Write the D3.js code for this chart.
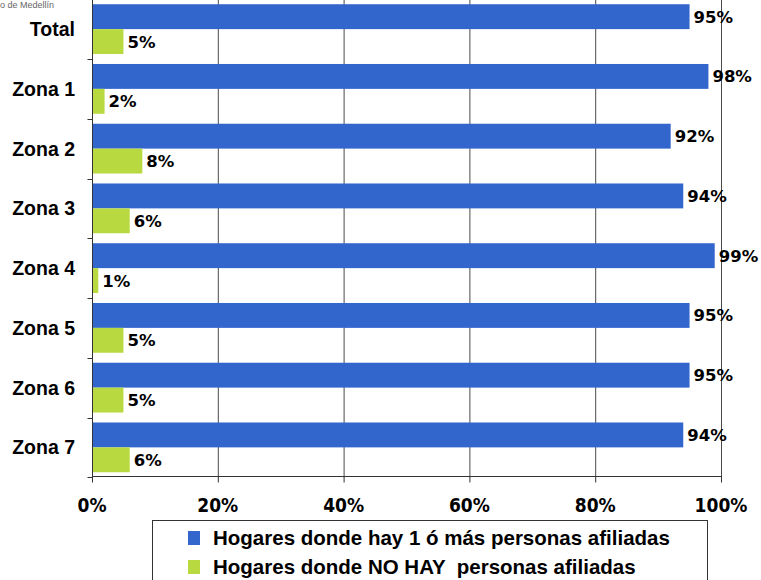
<!DOCTYPE html>
<html><head><meta charset="utf-8">
<script src="https://cdn.jsdelivr.net/npm/d3@7"></script>
<style>body{margin:0;background:#fff}svg{display:block}</style>
</head><body><svg id="c" width="761" height="580"></svg>
<script>
const categories = ["Total","Zona 1","Zona 2","Zona 3","Zona 4","Zona 5","Zona 6","Zona 7"];
const afiliadas = [95,98,92,94,99,95,95,94];
const noAfiliadas = [5,2,8,6,1,5,5,6];
const xTicks = [0,20,40,60,80,100];
const seriesNames = ["Hogares donde hay 1 ó más personas afiliadas","Hogares donde NO HAY  personas afiliadas"];
const colors = ["#3366CC","#B8DA40"];

const svg = d3.select("#c");
const x = d3.scaleLinear().domain([0,100]).range([92,721]);
const y = d3.scaleBand().domain(categories).range([-0.75,477.25]).padding(0);
const sub = d3.scaleBand().domain([0,1]).range([0,y.bandwidth()]).paddingInner(0).paddingOuter(0.2);
const series = [afiliadas, noAfiliadas];

// gridlines
svg.append("g").selectAll("line").data(xTicks.filter(d=>d>0)).join("line")
  .attr("x1",d=>x(d)+0.5).attr("x2",d=>x(d)+0.5).attr("y1",-1).attr("y2",y.range()[1])
  .attr("stroke","#4a4a4a").attr("stroke-width",1);

// bars
series.forEach((vals,si)=>{
  svg.append("g").selectAll("rect").data(vals).join("rect")
    .attr("x",x(0)).attr("y",(d,i)=>y(categories[i])+sub(si))
    .attr("width",d=>x(d)-x(0)).attr("height",sub.bandwidth())
    .attr("fill",colors[si]);
  svg.append("g").selectAll("text").data(vals).join("text")
    .attr("x",d=>x(d)+4).attr("y",(d,i)=>y(categories[i])+sub(si)+sub.bandwidth()/2)
    .attr("dy","0.36em")
    .style("font-family","'DejaVu Sans'").style("font-weight","bold").style("font-size","16.5px")
    .attr("fill","#000").text(d=>d+"%");
});

// y axis
const yAxis = svg.append("g").attr("transform",`translate(${x(0)+0.5},0)`);
yAxis.append("line").attr("x1",0).attr("x2",0).attr("y1",-1).attr("y2",y.range()[1]).attr("stroke","#333");
yAxis.selectAll("line.t").data(categories).join("line").attr("class","t")
  .attr("x1",-5).attr("x2",0).attr("y1",d=>Math.round(y(d)+y.bandwidth())+0.5).attr("y2",d=>Math.round(y(d)+y.bandwidth())+0.5)
  .attr("stroke","#333");
svg.append("g").selectAll("text").data(categories).join("text")
  .attr("x",75).attr("y",d=>y(d)+y.bandwidth()/2).attr("dy","0.36em").attr("text-anchor","end")
  .style("font-family","'Liberation Sans',Arial").style("font-weight","bold").style("font-size","19.5px")
  .text(d=>d);

// x axis
const xAxisY = Math.round(y.range()[1])-0.5;
svg.append("line").attr("x1",x(0)).attr("x2",x(100)+1).attr("y1",xAxisY).attr("y2",xAxisY).attr("stroke","#333");
svg.append("g").selectAll("line").data(xTicks).join("line")
  .attr("x1",d=>x(d)+0.5).attr("x2",d=>x(d)+0.5).attr("y1",xAxisY).attr("y2",xAxisY+6).attr("stroke","#333");
svg.append("g").selectAll("text").data(xTicks).join("text")
  .attr("x",d=>x(d)).attr("y",505).attr("dy","0.36em").attr("text-anchor","middle")
  .style("font-family","'DejaVu Sans Condensed','DejaVu Sans'").style("font-stretch","condensed")
  .style("font-weight","bold").style("font-size","19px")
  .text(d=>d+"%");

// legend
svg.append("rect").attr("x",152.5).attr("y",520.5).attr("width",555).attr("height",70)
  .attr("fill","#fff").attr("stroke","#333");
seriesNames.forEach((n,i)=>{
  const cy = 538 + i*29;
  svg.append("rect").attr("x",188).attr("y",cy-7).attr("width",12).attr("height",14).attr("fill",colors[i]);
  svg.append("text").attr("x",213).attr("y",cy).attr("dy","0.36em")
    .attr("xml:space","preserve").style("white-space","pre")
    .style("font-family","'Liberation Sans',Arial").style("font-weight","bold").style("font-size","20.5px")
    .text(n);
});

// source fragment at top-left
svg.append("text").attr("x",0).attr("y",8)
  .style("font-family","'Liberation Sans',Arial").style("font-size","9px").attr("fill","#666")
  .text("o de Medellín");
</script></body></html>
